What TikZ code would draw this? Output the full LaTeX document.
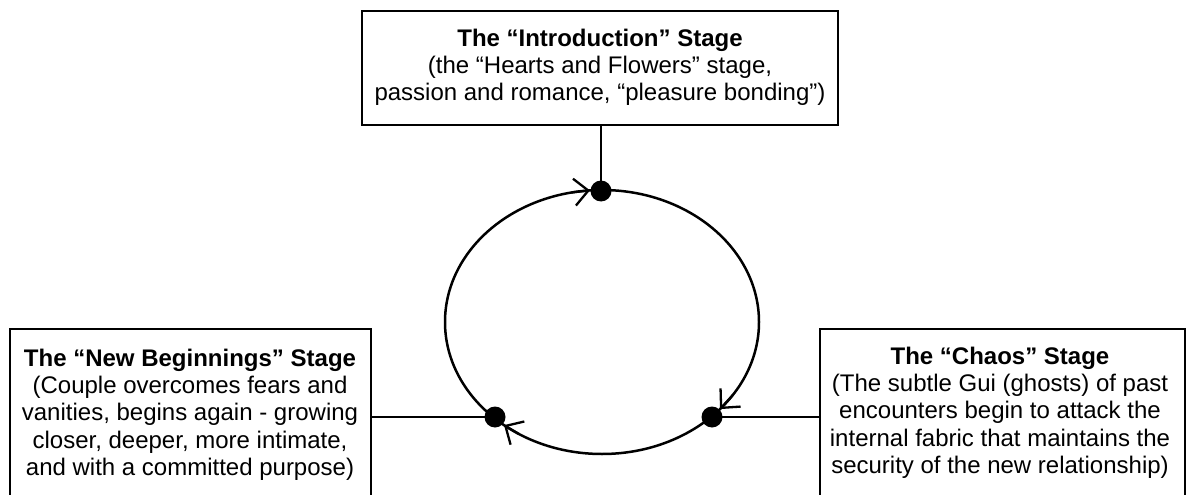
\documentclass[tikz,border=0pt]{standalone}
\usepackage{fontspec}
\setmainfont{Liberation Sans}
\usetikzlibrary{arrows.meta,shapes.geometric}
\begin{document}
\begin{tikzpicture}[x=1pt,y=-1pt,
  stagebox/.style={draw,line width=2.8pt,inner sep=0pt,outer sep=0pt},
  stagetext/.style={anchor=north,align=center,inner sep=0pt,font=\fontsize{24}{27.3}\selectfont},
  link/.style={line width=2.8pt},
  loop/.style={draw,ellipse,line width=2.5pt,inner sep=0pt},
  dot/.style={circle,fill=black,inner sep=0pt,minimum size=21pt},
  flow/.style={line width=2.3pt,-{Straight Barb[length=14pt,width=27pt]}}]
\useasboundingbox (0,0) rectangle (1187,495);
\clip (0,0) rectangle (1187,495);
% boxes
\node[stagebox,minimum width=476pt,minimum height=114pt] (intro) at (600,68) {};
\node[stagebox,minimum width=361pt,minimum height=191pt] (newb) at (190.5,424.5) {};
\node[stagebox,minimum width=365pt,minimum height=191pt] (chaos) at (1002.5,424.5) {};
% texts
\node[stagetext] (introtxt) at (600,27) {\rule{0pt}{19pt}\textbf{The “Introduction” Stage}\\(the “Hearts and Flowers” stage,\\passion and romance, “pleasure bonding”)};
\node[stagetext] (newbtxt) at (190,347) {\rule{0pt}{19pt}\textbf{The “New Beginnings” Stage}\\(Couple overcomes fears and\\vanities, begins again - growing\\closer, deeper, more intimate,\\and with a committed purpose)};
\node[stagetext] (chaostxt) at (1000,345) {\rule{0pt}{19pt}\textbf{The “Chaos” Stage}\\(The subtle Gui (ghosts) of past\\encounters begin to attack the\\internal fabric that maintains the\\security of the new relationship)};
% cycle
\node[loop,minimum width=314pt,minimum height=264pt] (cycle) at (602,322) {};
% dots positions
\coordinate (dt) at (601,191);
\coordinate (dl) at (495,417);
\coordinate (dr) at (712,417);
% connectors
\draw[link] (intro.south -| dt) -- (dt);
\draw[link] (newb.east |- dl) -- (dl);
\draw[link] (chaos.west |- dr) -- (dr);
% arrows along the cycle
\coordinate (at0) at (572,192.4); \coordinate (at1) at (590,190.4);
\coordinate (al0) at (519,434);   \coordinate (al1) at (504,425.1);
\coordinate (ar0) at (733,394.8); \coordinate (ar1) at (720,409.1);
\draw[flow] (at0) -- (at1);
\draw[flow] (al0) -- (al1);
\draw[flow] (ar0) -- (ar1);
% dots
\node[dot] (dott) at (dt) {};
\node[dot] (dotl) at (dl) {};
\node[dot] (dotr) at (dr) {};
\end{tikzpicture}
\end{document}
